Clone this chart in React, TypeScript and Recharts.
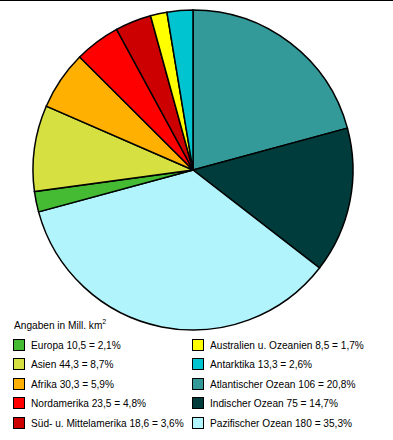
import { PieChart, Pie, Cell, Legend } from 'recharts';

// Flächen in Mill. km² (Reihenfolge im Kreis, im Uhrzeigersinn ab 12 Uhr)
const regions = [
  'Atlantischer Ozean',
  'Indischer Ozean',
  'Pazifischer Ozean',
  'Europa',
  'Asien',
  'Afrika',
  'Nordamerika',
  'Süd- u. Mittelamerika',
  'Australien u. Ozeanien',
  'Antarktika',
];
const areas = [106, 75, 180, 10.5, 44.3, 30.3, 23.5, 18.6, 8.5, 13.3];
const areaTexts = ['106', '75', '180', '10,5', '44,3', '30,3', '23,5', '18,6', '8,5', '13,3'];
const shares = ['20,8%', '14,7%', '35,3%', '2,1%', '8,7%', '5,9%', '4,8%', '3,6%', '1,7%', '2,6%'];
const colors = [
  '#339999',
  '#003c3c',
  '#b2f4fc',
  '#44bb33',
  '#d6e040',
  '#ffb000',
  '#ff0000',
  '#cc0000',
  '#ffff00',
  '#00c4d0',
];

// Legendenspalten (Indizes in die Arrays oben)
const leftColumn = [3, 4, 5, 6, 7];
const rightColumn = [8, 9, 0, 1, 2];

const data = regions.map((name, i) => ({ name, value: areas[i] }));

const font = '"Liberation Sans", Arial, sans-serif';

const LegendItem = ({ i }: { i: number }) => (
  <div style={{ display: 'flex', alignItems: 'center', height: 19.5 }}>
    <span
      style={{
        width: 10,
        height: 10,
        background: colors[i],
        border: '1px solid #000',
        marginRight: 6,
        flexShrink: 0,
      }}
    />
    <span
      style={{
        whiteSpace: 'pre',
        display: 'inline-block',
        transform: 'scaleX(0.88)',
        transformOrigin: 'left center',
      }}
    >
      {`${regions[i]} ${areaTexts[i]} = ${shares[i]}`}
    </span>
  </div>
);

const LegendContent = () => (
  <div style={{ fontFamily: font, fontSize: 11.5, color: '#000', textAlign: 'left' }}>
    <div
      style={{
        marginLeft: 14,
        marginBottom: 4,
        display: 'inline-block',
        transform: 'scaleX(0.88)',
        transformOrigin: 'left center',
      }}
    >
      Angaben in Mill. km<sup style={{ fontSize: 8 }}>2</sup>
    </div>
    <div style={{ display: 'flex' }}>
      <div style={{ width: 179, paddingLeft: 13 }}>
        {leftColumn.map((i) => (
          <LegendItem key={i} i={i} />
        ))}
      </div>
      <div>
        {rightColumn.map((i) => (
          <LegendItem key={i} i={i} />
        ))}
      </div>
    </div>
  </div>
);

export default function App() {
  return (
    <div
      style={{
        position: 'absolute',
        left: 0,
        top: 0,
        width: 393,
        height: 440,
        background: '#fff',
        borderTop: '1px solid #000',
        boxSizing: 'border-box',
      }}
    >
      <PieChart width={393} height={439} margin={{ top: 0, right: 0, bottom: 0, left: 0 }}>
        <Pie
          data={data}
          dataKey="value"
          nameKey="name"
          cx={193}
          cy={169}
          outerRadius={160}
          startAngle={90}
          endAngle={-270}
          stroke="#000"
          strokeWidth={1.5}
          isAnimationActive={false}
        >
          {data.map((d, i) => (
            <Cell key={d.name} fill={colors[i]} />
          ))}
        </Pie>
        <Legend
          content={<LegendContent />}
          wrapperStyle={{ position: 'absolute', left: 0, top: 316, width: 393 }}
        />
      </PieChart>
    </div>
  );
}
